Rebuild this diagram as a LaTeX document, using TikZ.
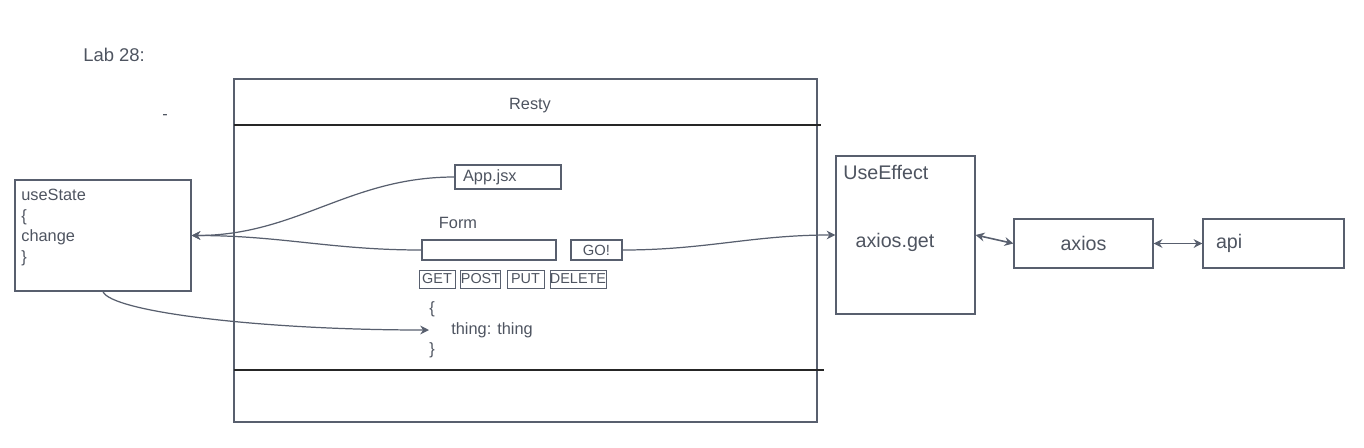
\documentclass[tikz,border=0pt]{standalone}
\usepackage{fontspec}
\setmainfont{Liberation Sans}
\usepackage{xcolor}
\usepackage{tikz}
\usetikzlibrary{arrows.meta,positioning}
\definecolor{inkline}{RGB}{88,95,110}
\definecolor{inktext}{RGB}{78,84,96}

\begin{document}
\begin{tikzpicture}[x=0.02cm, y=-0.02cm,
    box/.style={draw=inkline, line width=0.7pt, inner sep=0pt},
    btn/.style={draw=inkline, line width=0.5pt, minimum height=0.36cm, inner sep=0pt, font=\fontsize{8.2}{9}\selectfont, text=inktext},
    txt/.style={text=inktext, font=\fontsize{9.3}{11.7}\selectfont, inner sep=0pt},
    bigtxt/.style={text=inktext, font=\fontsize{11.2}{13}\selectfont, inner sep=0pt},
    link/.style={draw=inkline, line width=0.7pt, -{Stealth[length=5pt,width=5pt]}},
    biglink/.style={draw=inkline, line width=0.9pt, {Stealth[length=5pt,width=5pt]}-{Stealth[length=5pt,width=5pt]}},
]
    \useasboundingbox (0,0) rectangle (1364,447);

    \node[txt, anchor=west, font=\fontsize{10.5}{12}\selectfont] (labtitle) at (83,55) {Lab 28:};
    \node[txt] (dash) at (165,117) {-};

    % Resty frame
    \node[box, minimum width=11.66cm, minimum height=6.86cm] (resty) at (525.5,250.5) {};
    \node[txt] (restytitle) at (530,106) {Resty};
    \draw[line width=0.8pt, black!85] (234,125) -- (821,125);
    \draw[line width=0.8pt, black!85] (234,370) -- (824,370);

    % state
    \node[box, minimum width=3.52cm, minimum height=2.22cm] (usestate) at (103,235.5) {};
    \node[txt, anchor=north west, align=left] (usestatetext) at (21,189) {useState\\\{\\change\\\}};

    % form parts
    \node[box, minimum width=2.12cm, minimum height=0.48cm, inner xsep=0.16cm, text width=1.8cm, align=left, txt] (app) at (508,177) {App.jsx};
    \node[txt] (formtitle) at (458,223) {Form};
    \node[box, minimum width=2.68cm, minimum height=0.4cm] (input) at (489,250) {};
    \node[box, minimum width=1.02cm, minimum height=0.4cm, txt, font=\fontsize{8.4}{10}\selectfont] (go) at (596.5,250) {GO!};
    \node[btn, minimum width=0.72cm] (get) at (437,279) {GET};
    \node[btn, minimum width=0.74cm] (post) at (480.5,279) {POST};
    \node[btn, minimum width=0.74cm] (put) at (525.5,279) {PUT};
    \node[btn, minimum width=1.08cm] (delete) at (578,279) {DELETE};
    \node[txt, anchor=west, align=left] (payload) at (429,330) {\{\\\hspace{0.44cm}thing: thing\\\}};

    % effect side
    \node[box, minimum width=2.78cm, minimum height=3.16cm] (useeffect) at (905.5,235) {};
    \node[bigtxt, anchor=west] (useeffecttitle) at (843,172) {UseEffect};
    \node[bigtxt] (axiosget) at (895,242) {axios.get};
    \node[box, minimum width=2.78cm, minimum height=0.98cm, bigtxt] (axios) at (1083.5,243.5) {axios};
    \node[box, minimum width=2.82cm, minimum height=0.98cm, inner xsep=0.26cm, text width=2.3cm, align=left, bigtxt] (api) at (1273.5,243.5) {api};

    \draw[link] (app.west) to[out=180, in=0] (usestate.east);
    \draw[link] (input.west) to[out=180, in=0] (usestate.east);
    \draw[link] (go.east) to[out=0, in=180] (useeffect.west);
    \draw[link] (usestate.south) .. controls +(8,20) and +(-170,0) .. (payload.west);
    \draw[biglink] (useeffect.east) -- (axios.west);
    \draw[biglink] (axios.east) -- (api.west);
\end{tikzpicture}
\end{document}
